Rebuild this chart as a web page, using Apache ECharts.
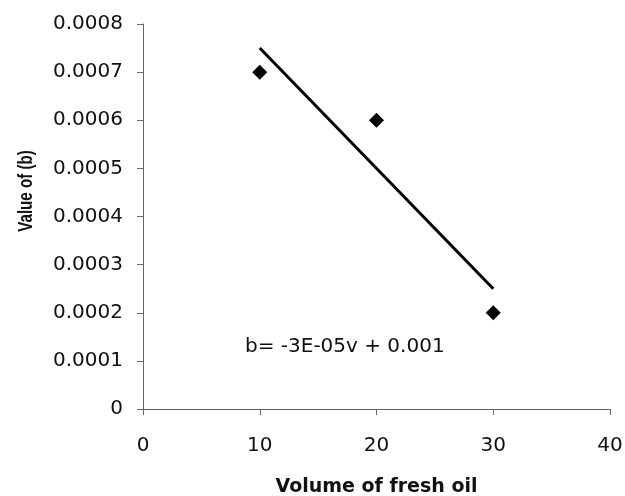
<!DOCTYPE html>
<html>
<head>
<meta charset="utf-8">
<style>
  html, body { margin: 0; padding: 0; background: #ffffff; }
  #chart { width: 625px; height: 496px; }
</style>
<script src="https://cdn.jsdelivr.net/npm/echarts@6/dist/echarts.min.js"></script>
</head>
<body>
<div id="chart"></div>
<script>
// Measured b values against the volume of fresh oil
const volumes = [10, 20, 30];
const bValues = [0.0007, 0.0006, 0.0002];

// Axis ranges and ticks
const xTicks = [0, 10, 20, 30, 40];
const yTicks = [0, 0.0001, 0.0002, 0.0003, 0.0004, 0.0005, 0.0006, 0.0007, 0.0008];

const equationText = 'b= -3E-05v + 0.001';

// Least-squares linear trend through the measured points
function linearFit(xs, ys) {
  const n = xs.length;
  const mx = xs.reduce((a, b) => a + b, 0) / n;
  const my = ys.reduce((a, b) => a + b, 0) / n;
  let sxy = 0, sxx = 0;
  for (let i = 0; i < n; i++) {
    sxy += (xs[i] - mx) * (ys[i] - my);
    sxx += (xs[i] - mx) * (xs[i] - mx);
  }
  const slope = sxy / sxx;
  return { slope: slope, intercept: my - slope * mx };
}
const fit = linearFit(volumes, bValues);
const xFirst = Math.min.apply(null, volumes);
const xLast = Math.max.apply(null, volumes);
const trendData = [
  [xFirst, fit.intercept + fit.slope * xFirst],
  [xLast, fit.intercept + fit.slope * xLast]
];

const points = volumes.map((v, i) => [v, bValues[i]]);

const chart = echarts.init(document.getElementById('chart'), null, { renderer: 'canvas' });

const axisColor = '#666666';
const textColor = '#111111';

chart.setOption({
  backgroundColor: '#ffffff',
  animation: false,
  grid: { left: 143, right: 15, top: 24, bottom: 87, containLabel: false, outerBoundsMode: 'none' },
  xAxis: {
    type: 'value',
    min: xTicks[0],
    max: xTicks[xTicks.length - 1],
    interval: xTicks[1] - xTicks[0],
    name: 'Volume of fresh oil',
    nameLocation: 'middle',
    nameGap: 69,
    nameTextStyle: { fontFamily: 'DejaVu Sans', fontWeight: 'bold', fontSize: 19, color: textColor },
    axisLine: { show: true, onZero: false, lineStyle: { color: axisColor, width: 1 } },
    axisTick: { show: true, inside: false, length: 6, lineStyle: { color: axisColor } },
    axisLabel: { margin: 27, fontFamily: 'DejaVu Sans', fontSize: 20, color: textColor },
    splitLine: { show: false }
  },
  yAxis: {
    type: 'value',
    min: yTicks[0],
    max: yTicks[yTicks.length - 1],
    interval: yTicks[1] - yTicks[0],
    axisLine: { show: true, onZero: false, lineStyle: { color: axisColor, width: 1 } },
    axisTick: { show: true, inside: false, length: 6, lineStyle: { color: axisColor } },
    axisLabel: {
      margin: 20,
      fontFamily: 'DejaVu Sans',
      fontSize: 20,
      color: textColor,
      formatter: function (v) { return v === 0 ? '0' : v.toFixed(4); }
    },
    splitLine: { show: false }
  },
  series: [
    {
      name: 'b',
      type: 'scatter',
      data: points,
      symbol: 'diamond',
      symbolSize: 15,
      itemStyle: { color: '#000000', opacity: 1 },
      z: 3
    },
    {
      name: 'Linear (b)',
      type: 'line',
      data: trendData,
      showSymbol: false,
      symbol: 'none',
      lineStyle: { color: '#000000', width: 3 },
      z: 2
    }
  ],
  graphic: [
    {
      type: 'text',
      left: 245,
      top: 337,
      style: { text: equationText, fontFamily: 'DejaVu Sans', fontSize: 20, fill: textColor }
    },
    {
      type: 'text',
      x: 26,
      y: 191,
      rotation: Math.PI / 2,
      scaleX: 0.72,
      scaleY: 1,
      style: {
        text: 'Value of (b)',
        fontFamily: '"Liberation Sans", Arial, sans-serif',
        fontWeight: 'bold',
        fontSize: 21,
        fill: textColor,
        align: 'center',
        verticalAlign: 'middle'
      }
    }
  ]
});
</script>
</body>
</html>
